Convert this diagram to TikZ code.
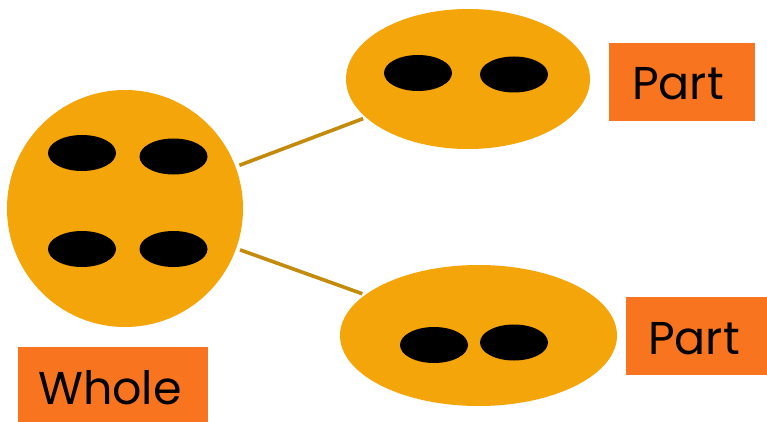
\documentclass[tikz,border=0pt]{standalone}
\usepackage{fontspec}
\setmainfont{Poppins}
\usetikzlibrary{shapes.geometric}
\definecolor{blobfill}{HTML}{F4A509}
\definecolor{boxfill}{HTML}{F9741E}
\definecolor{linkcol}{HTML}{C38A0C}
\tikzset{
  blob/.style={ellipse, fill=blobfill, inner sep=0pt},
  dot/.style={ellipse, fill=black, inner sep=0pt, minimum width=68pt, minimum height=36pt},
  labelbox/.style={rectangle, fill=boxfill, inner sep=0pt, anchor=north west},
  labeltext/.style={anchor=base west, inner sep=0pt, font=\fontsize{46}{48}\selectfont},
  link/.style={draw=linkcol, line width=3.6pt, shorten <=4pt, shorten >=3pt}
}
\begin{document}
\begin{tikzpicture}[x=1pt, y=-1pt]
\useasboundingbox (0,0) rectangle (767,422);
% whole
\node[blob, minimum width=236pt, minimum height=237pt] (whole) at (125,208.5) {};
\node[dot] (w1) at (82,153) {};
\node[dot] (w2) at (173.5,156.5) {};
\node[dot] (w3) at (82,249) {};
\node[dot] (w4) at (173.5,249) {};
% top part
\node[blob, minimum width=244pt, minimum height=140pt] (ptop) at (468,79) {};
\node[dot] (t1) at (418,73) {};
\node[dot] (t2) at (514,74.5) {};
% bottom part
\node[blob, minimum width=277pt, minimum height=141pt] (pbot) at (478.5,335.5) {};
\node[dot] (b1) at (434,345) {};
\node[dot] (b2) at (514,342.5) {};
% links
\draw[link] (whole) -- (ptop);
\draw[link] (whole) -- (pbot);
% labels
\node[labelbox, minimum width=146pt, minimum height=78pt] (lbtop) at (609,43) {};
\node[labeltext] (ltop) at (632,100) {Part};
\node[labelbox, minimum width=141pt, minimum height=78pt] (lbbot) at (626,297) {};
\node[labeltext] (lbot) at (648,354) {Part};
\node[labelbox, minimum width=190pt, minimum height=75pt] (lbwhole) at (18,347) {};
\node[labeltext] (lwhole) at (38,404) {Whole};
\end{tikzpicture}
\end{document}
